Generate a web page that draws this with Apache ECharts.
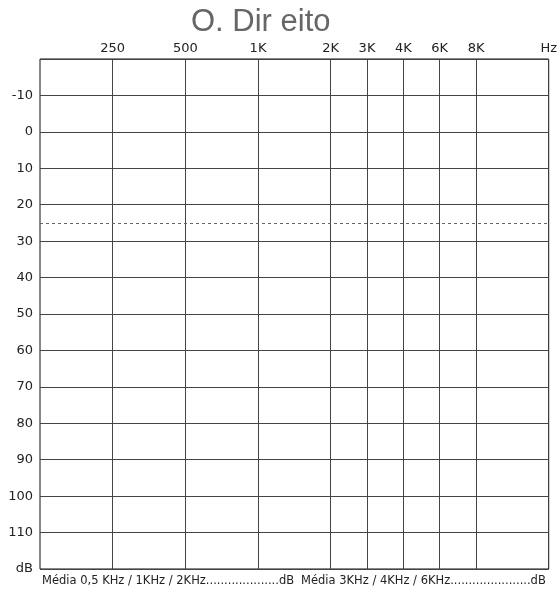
<!DOCTYPE html>
<html>
<head>
<meta charset="utf-8">
<script src="https://cdn.jsdelivr.net/npm/echarts@6/dist/echarts.min.js"></script>
<style>html,body{margin:0;padding:0;background:#fff;}#c{width:560px;height:595px;}</style>
</head>
<body>
<div id="c"></div>
<script>
// Frequency columns on an octave scale (125 Hz = 0 ... 16 kHz = 7)
const freqLabels = ['250', '500', '1K', '2K', '3K', '4K', '6K', '8K', 'Hz'];
const freqPositions = [1, 2, 3, 4, 4.5, 5, 5.5, 6, 7];
const gridFreqPositions = [1, 2, 3, 4, 4.5, 5, 5.5, 6];
// Hearing level axis (dB)
const dbMin = -20;
const dbMax = 120;
const dbStep = 10;
const thresholdDb = 25;
const titleText = 'O. Dir eito';
const footerLeft = 'Média 0,5 KHz / 1KHz / 2KHz....................dB';
const footerRight = 'Média 3KHz / 4KHz / 6KHz......................dB';

const chart = echarts.init(document.getElementById('c'));
const labelMap = {};
freqPositions.forEach((p, i) => { labelMap[p] = freqLabels[i]; });

chart.setOption({
  animation: false,
  backgroundColor: '#fff',
  grid: { left: 40, right: 9, top: 59, bottom: 26, show: true, borderColor: '#111', borderWidth: 1, backgroundColor: 'transparent' },
  xAxis: {
    type: 'value', position: 'top', min: 0, max: 7,
    axisLine: { show: false }, axisTick: { show: false }, splitLine: { show: false },
    axisLabel: {
      customValues: freqPositions,
      formatter: v => labelMap[v] || '',
      color: '#222', fontFamily: 'DejaVu Sans', fontSize: 13, margin: 4
    }
  },
  yAxis: {
    type: 'value', inverse: true, min: dbMin, max: dbMax, interval: dbStep,
    axisLine: { show: false }, axisTick: { show: false },
    splitLine: { show: true, lineStyle: { color: '#444', width: 1 } },
    axisLabel: {
      formatter: v => v === dbMin ? '' : (v === dbMax ? 'dB' : String(v)),
      color: '#222', fontFamily: 'DejaVu Sans', fontSize: 13, margin: 7
    }
  },
  series: [{
    type: 'line', data: [], silent: true,
    markLine: {
      silent: true, symbol: 'none', animation: false,
      label: { show: false },
      data: gridFreqPositions.map(p => ({ xAxis: p, lineStyle: { color: '#444', width: 1, type: 'solid' } }))
        .concat([{ yAxis: thresholdDb, lineStyle: { color: '#666', width: 1, type: [3, 3] } }])
    }
  }],
  graphic: [
    { type: 'text', left: 191, top: 7, style: { text: titleText, font: '31px "Liberation Sans"', fill: '#666' } },
    { type: 'text', left: 42, top: 575, style: { text: footerLeft, font: '11.5px "DejaVu Sans"', fill: '#222' } },
    { type: 'text', left: 301, top: 575, style: { text: footerRight, font: '11.5px "DejaVu Sans"', fill: '#222' } }
  ]
});
</script>
</body>
</html>
